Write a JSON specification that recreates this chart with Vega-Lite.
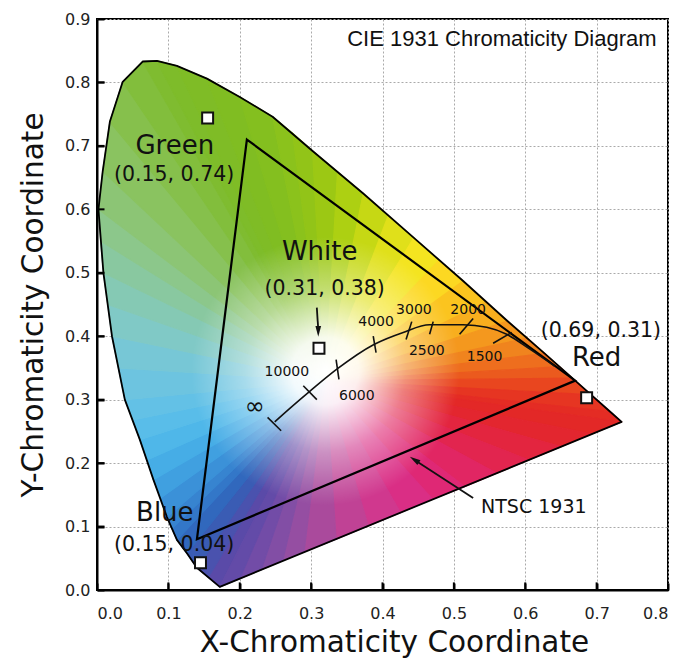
{
  "$schema": "https://vega.github.io/schema/vega-lite/v6.json",
  "width": 571,
  "height": 571,
  "autosize": {"type": "none"},
  "padding": {"left": 97, "top": 19, "right": 12, "bottom": 71},
  "background": "white",
  "config": {
    "view": {"stroke": "#000", "strokeWidth": 2},
    "axis": {
      "zindex": 1,
      "domainColor": "#000",
      "domainWidth": 2,
      "tickColor": "#000",
      "tickWidth": 2,
      "tickSize": -7,
      "labelFont": "DejaVu Sans",
      "labelFontSize": 16,
      "labelColor": "#222",
      "gridColor": "#aaaaaa",
      "gridDash": [2, 2],
      "gridWidth": 1,
      "titleFont": "DejaVu Sans",
      "titleFontSize": 29.5,
      "titleFontWeight": "normal",
      "titleColor": "#111"
    }
  },
  "datasets": {
    "wedges": [
      {"w":0,"o":0,"x":0.32,"y":0.33,"c":"#5a4aa8"},{"w":0,"o":1,"x":0.172,"y":0.005,"c":"#5a4aa8"},{"w":0,"o":2,"x":0.156,"y":0.020,"c":"#5a4aa8"},
      {"w":1,"o":0,"x":0.32,"y":0.33,"c":"#4a52ae"},{"w":1,"o":1,"x":0.156,"y":0.020,"c":"#4a52ae"},{"w":1,"o":2,"x":0.140,"y":0.035,"c":"#4a52ae"},
      {"w":2,"o":0,"x":0.32,"y":0.33,"c":"#3a5cb4"},{"w":2,"o":1,"x":0.140,"y":0.035,"c":"#3a5cb4"},{"w":2,"o":2,"x":0.126,"y":0.058,"c":"#3a5cb4"},
      {"w":3,"o":0,"x":0.32,"y":0.33,"c":"#3168bd"},{"w":3,"o":1,"x":0.126,"y":0.058,"c":"#3168bd"},{"w":3,"o":2,"x":0.112,"y":0.079,"c":"#3168bd"},
      {"w":4,"o":0,"x":0.32,"y":0.33,"c":"#3377c8"},{"w":4,"o":1,"x":0.112,"y":0.079,"c":"#3377c8"},{"w":4,"o":2,"x":0.105,"y":0.097,"c":"#3377c8"},
      {"w":5,"o":0,"x":0.32,"y":0.33,"c":"#3784d0"},{"w":5,"o":1,"x":0.105,"y":0.097,"c":"#3784d0"},{"w":5,"o":2,"x":0.098,"y":0.115,"c":"#3784d0"},
      {"w":6,"o":0,"x":0.32,"y":0.33,"c":"#3b91d8"},{"w":6,"o":1,"x":0.098,"y":0.115,"c":"#3b91d8"},{"w":6,"o":2,"x":0.089,"y":0.145,"c":"#3b91d8"},
      {"w":7,"o":0,"x":0.32,"y":0.33,"c":"#40a0e0"},{"w":7,"o":1,"x":0.089,"y":0.145,"c":"#40a0e0"},{"w":7,"o":2,"x":0.079,"y":0.174,"c":"#40a0e0"},
      {"w":8,"o":0,"x":0.32,"y":0.33,"c":"#46ade6"},{"w":8,"o":1,"x":0.079,"y":0.174,"c":"#46ade6"},{"w":8,"o":2,"x":0.070,"y":0.205,"c":"#46ade6"},
      {"w":9,"o":0,"x":0.32,"y":0.33,"c":"#4fb7e9"},{"w":9,"o":1,"x":0.070,"y":0.205,"c":"#4fb7e9"},{"w":9,"o":2,"x":0.060,"y":0.237,"c":"#4fb7e9"},
      {"w":10,"o":0,"x":0.32,"y":0.33,"c":"#59bde9"},{"w":10,"o":1,"x":0.060,"y":0.237,"c":"#59bde9"},{"w":10,"o":2,"x":0.050,"y":0.268,"c":"#59bde9"},
      {"w":11,"o":0,"x":0.32,"y":0.33,"c":"#63c1e6"},{"w":11,"o":1,"x":0.050,"y":0.268,"c":"#63c1e6"},{"w":11,"o":2,"x":0.039,"y":0.300,"c":"#63c1e6"},
      {"w":12,"o":0,"x":0.32,"y":0.33,"c":"#6dc4e0"},{"w":12,"o":1,"x":0.039,"y":0.300,"c":"#6dc4e0"},{"w":12,"o":2,"x":0.030,"y":0.350,"c":"#6dc4e0"},
      {"w":13,"o":0,"x":0.32,"y":0.33,"c":"#77c7d6"},{"w":13,"o":1,"x":0.030,"y":0.350,"c":"#77c7d6"},{"w":13,"o":2,"x":0.021,"y":0.400,"c":"#77c7d6"},
      {"w":14,"o":0,"x":0.32,"y":0.33,"c":"#80c9c6"},{"w":14,"o":1,"x":0.021,"y":0.400,"c":"#80c9c6"},{"w":14,"o":2,"x":0.015,"y":0.450,"c":"#80c9c6"},
      {"w":15,"o":0,"x":0.32,"y":0.33,"c":"#85c9b4"},{"w":15,"o":1,"x":0.015,"y":0.450,"c":"#85c9b4"},{"w":15,"o":2,"x":0.009,"y":0.500,"c":"#85c9b4"},
      {"w":16,"o":0,"x":0.32,"y":0.33,"c":"#89c8a0"},{"w":16,"o":1,"x":0.009,"y":0.500,"c":"#89c8a0"},{"w":16,"o":2,"x":0.005,"y":0.550,"c":"#89c8a0"},
      {"w":17,"o":0,"x":0.32,"y":0.33,"c":"#8cc78b"},{"w":17,"o":1,"x":0.005,"y":0.550,"c":"#8cc78b"},{"w":17,"o":2,"x":0.002,"y":0.600,"c":"#8cc78b"},
      {"w":18,"o":0,"x":0.32,"y":0.33,"c":"#8cc575"},{"w":18,"o":1,"x":0.002,"y":0.600,"c":"#8cc575"},{"w":18,"o":2,"x":0.008,"y":0.660,"c":"#8cc575"},
      {"w":19,"o":0,"x":0.32,"y":0.33,"c":"#8ac360"},{"w":19,"o":1,"x":0.008,"y":0.660,"c":"#8ac360"},{"w":19,"o":2,"x":0.018,"y":0.738,"c":"#8ac360"},
      {"w":20,"o":0,"x":0.32,"y":0.33,"c":"#86c04c"},{"w":20,"o":1,"x":0.018,"y":0.738,"c":"#86c04c"},{"w":20,"o":2,"x":0.036,"y":0.801,"c":"#86c04c"},
      {"w":21,"o":0,"x":0.32,"y":0.33,"c":"#82be3c"},{"w":21,"o":1,"x":0.036,"y":0.801,"c":"#82be3c"},{"w":21,"o":2,"x":0.064,"y":0.833,"c":"#82be3c"},
      {"w":22,"o":0,"x":0.32,"y":0.33,"c":"#7fbc30"},{"w":22,"o":1,"x":0.064,"y":0.833,"c":"#7fbc30"},{"w":22,"o":2,"x":0.084,"y":0.834,"c":"#7fbc30"},
      {"w":23,"o":0,"x":0.32,"y":0.33,"c":"#7ebc2a"},{"w":23,"o":1,"x":0.084,"y":0.834,"c":"#7ebc2a"},{"w":23,"o":2,"x":0.112,"y":0.826,"c":"#7ebc2a"},
      {"w":24,"o":0,"x":0.32,"y":0.33,"c":"#7fbc26"},{"w":24,"o":1,"x":0.112,"y":0.826,"c":"#7fbc26"},{"w":24,"o":2,"x":0.154,"y":0.806,"c":"#7fbc26"},
      {"w":25,"o":0,"x":0.32,"y":0.33,"c":"#80bd22"},{"w":25,"o":1,"x":0.154,"y":0.806,"c":"#80bd22"},{"w":25,"o":2,"x":0.200,"y":0.777,"c":"#80bd22"},
      {"w":26,"o":0,"x":0.32,"y":0.33,"c":"#84bf1f"},{"w":26,"o":1,"x":0.200,"y":0.777,"c":"#84bf1f"},{"w":26,"o":2,"x":0.246,"y":0.746,"c":"#84bf1f"},
      {"w":27,"o":0,"x":0.32,"y":0.33,"c":"#8bc21c"},{"w":27,"o":1,"x":0.246,"y":0.746,"c":"#8bc21c"},{"w":27,"o":2,"x":0.274,"y":0.720,"c":"#8bc21c"},
      {"w":28,"o":0,"x":0.32,"y":0.33,"c":"#92c418"},{"w":28,"o":1,"x":0.274,"y":0.720,"c":"#92c418"},{"w":28,"o":2,"x":0.302,"y":0.692,"c":"#92c418"},
      {"w":29,"o":0,"x":0.32,"y":0.33,"c":"#9cc814"},{"w":29,"o":1,"x":0.302,"y":0.692,"c":"#9cc814"},{"w":29,"o":2,"x":0.337,"y":0.659,"c":"#9cc814"},
      {"w":30,"o":0,"x":0.32,"y":0.33,"c":"#add012"},{"w":30,"o":1,"x":0.337,"y":0.659,"c":"#add012"},{"w":30,"o":2,"x":0.373,"y":0.625,"c":"#add012"},
      {"w":31,"o":0,"x":0.32,"y":0.33,"c":"#c6d814"},{"w":31,"o":1,"x":0.373,"y":0.625,"c":"#c6d814"},{"w":31,"o":2,"x":0.408,"y":0.590,"c":"#c6d814"},
      {"w":32,"o":0,"x":0.32,"y":0.33,"c":"#e0e01a"},{"w":32,"o":1,"x":0.408,"y":0.590,"c":"#e0e01a"},{"w":32,"o":2,"x":0.444,"y":0.555,"c":"#e0e01a"},
      {"w":33,"o":0,"x":0.32,"y":0.33,"c":"#f4e420"},{"w":33,"o":1,"x":0.444,"y":0.555,"c":"#f4e420"},{"w":33,"o":2,"x":0.479,"y":0.520,"c":"#f4e420"},
      {"w":34,"o":0,"x":0.32,"y":0.33,"c":"#fcd822"},{"w":34,"o":1,"x":0.479,"y":0.520,"c":"#fcd822"},{"w":34,"o":2,"x":0.513,"y":0.487,"c":"#fcd822"},
      {"w":35,"o":0,"x":0.32,"y":0.33,"c":"#fbc41f"},{"w":35,"o":1,"x":0.513,"y":0.487,"c":"#fbc41f"},{"w":35,"o":2,"x":0.545,"y":0.454,"c":"#fbc41f"},
      {"w":36,"o":0,"x":0.32,"y":0.33,"c":"#f8ae1e"},{"w":36,"o":1,"x":0.545,"y":0.454,"c":"#f8ae1e"},{"w":36,"o":2,"x":0.575,"y":0.424,"c":"#f8ae1e"},
      {"w":37,"o":0,"x":0.32,"y":0.33,"c":"#f4981e"},{"w":37,"o":1,"x":0.575,"y":0.424,"c":"#f4981e"},{"w":37,"o":2,"x":0.603,"y":0.397,"c":"#f4981e"},
      {"w":38,"o":0,"x":0.32,"y":0.33,"c":"#f0841e"},{"w":38,"o":1,"x":0.603,"y":0.397,"c":"#f0841e"},{"w":38,"o":2,"x":0.627,"y":0.373,"c":"#f0841e"},
      {"w":39,"o":0,"x":0.32,"y":0.33,"c":"#ee6e1e"},{"w":39,"o":1,"x":0.627,"y":0.373,"c":"#ee6e1e"},{"w":39,"o":2,"x":0.648,"y":0.352,"c":"#ee6e1e"},
      {"w":40,"o":0,"x":0.32,"y":0.33,"c":"#eb5a1e"},{"w":40,"o":1,"x":0.648,"y":0.352,"c":"#eb5a1e"},{"w":40,"o":2,"x":0.666,"y":0.334,"c":"#eb5a1e"},
      {"w":41,"o":0,"x":0.32,"y":0.33,"c":"#e9461f"},{"w":41,"o":1,"x":0.666,"y":0.334,"c":"#e9461f"},{"w":41,"o":2,"x":0.692,"y":0.308,"c":"#e9461f"},
      {"w":42,"o":0,"x":0.32,"y":0.33,"c":"#e63522"},{"w":42,"o":1,"x":0.692,"y":0.308,"c":"#e63522"},{"w":42,"o":2,"x":0.719,"y":0.281,"c":"#e63522"},
      {"w":43,"o":0,"x":0.32,"y":0.33,"c":"#e42c24"},{"w":43,"o":1,"x":0.719,"y":0.281,"c":"#e42c24"},{"w":43,"o":2,"x":0.735,"y":0.265,"c":"#e42c24"},
      {"w":44,"o":0,"x":0.32,"y":0.33,"c":"#e32827"},{"w":44,"o":1,"x":0.735,"y":0.265,"c":"#e32827"},{"w":44,"o":2,"x":0.693,"y":0.246,"c":"#e32827"},
      {"w":45,"o":0,"x":0.32,"y":0.33,"c":"#e3262f"},{"w":45,"o":1,"x":0.693,"y":0.246,"c":"#e3262f"},{"w":45,"o":2,"x":0.650,"y":0.226,"c":"#e3262f"},
      {"w":46,"o":0,"x":0.32,"y":0.33,"c":"#e3253f"},{"w":46,"o":1,"x":0.650,"y":0.226,"c":"#e3253f"},{"w":46,"o":2,"x":0.605,"y":0.205,"c":"#e3253f"},
      {"w":47,"o":0,"x":0.32,"y":0.33,"c":"#e2254f"},{"w":47,"o":1,"x":0.605,"y":0.205,"c":"#e2254f"},{"w":47,"o":2,"x":0.560,"y":0.184,"c":"#e2254f"},
      {"w":48,"o":0,"x":0.32,"y":0.33,"c":"#e12663"},{"w":48,"o":1,"x":0.560,"y":0.184,"c":"#e12663"},{"w":48,"o":2,"x":0.515,"y":0.163,"c":"#e12663"},
      {"w":49,"o":0,"x":0.32,"y":0.33,"c":"#df2875"},{"w":49,"o":1,"x":0.515,"y":0.163,"c":"#df2875"},{"w":49,"o":2,"x":0.470,"y":0.143,"c":"#df2875"},
      {"w":50,"o":0,"x":0.32,"y":0.33,"c":"#da2e85"},{"w":50,"o":1,"x":0.470,"y":0.143,"c":"#da2e85"},{"w":50,"o":2,"x":0.425,"y":0.122,"c":"#da2e85"},
      {"w":51,"o":0,"x":0.32,"y":0.33,"c":"#d0388e"},{"w":51,"o":1,"x":0.425,"y":0.122,"c":"#d0388e"},{"w":51,"o":2,"x":0.380,"y":0.101,"c":"#d0388e"},
      {"w":52,"o":0,"x":0.32,"y":0.33,"c":"#c04295"},{"w":52,"o":1,"x":0.380,"y":0.101,"c":"#c04295"},{"w":52,"o":2,"x":0.335,"y":0.080,"c":"#c04295"},
      {"w":53,"o":0,"x":0.32,"y":0.33,"c":"#aa4a9c"},{"w":53,"o":1,"x":0.335,"y":0.080,"c":"#aa4a9c"},{"w":53,"o":2,"x":0.290,"y":0.060,"c":"#aa4a9c"},
      {"w":54,"o":0,"x":0.32,"y":0.33,"c":"#954ea2"},{"w":54,"o":1,"x":0.290,"y":0.060,"c":"#954ea2"},{"w":54,"o":2,"x":0.260,"y":0.046,"c":"#954ea2"},
      {"w":55,"o":0,"x":0.32,"y":0.33,"c":"#824ea5"},{"w":55,"o":1,"x":0.260,"y":0.046,"c":"#824ea5"},{"w":55,"o":2,"x":0.230,"y":0.032,"c":"#824ea5"},
      {"w":56,"o":0,"x":0.32,"y":0.33,"c":"#724ca7"},{"w":56,"o":1,"x":0.230,"y":0.032,"c":"#724ca7"},{"w":56,"o":2,"x":0.200,"y":0.018,"c":"#724ca7"},
      {"w":57,"o":0,"x":0.32,"y":0.33,"c":"#634ba8"},{"w":57,"o":1,"x":0.200,"y":0.018,"c":"#634ba8"},{"w":57,"o":2,"x":0.172,"y":0.005,"c":"#634ba8"}
    ],
    "locus": [
      {"o":0,"x":0.172,"y":0.005},{"o":1,"x":0.140,"y":0.035},{"o":2,"x":0.126,"y":0.058},{"o":3,"x":0.112,"y":0.079},
      {"o":4,"x":0.098,"y":0.115},{"o":5,"x":0.079,"y":0.174},{"o":6,"x":0.060,"y":0.237},{"o":7,"x":0.039,"y":0.300},
      {"o":8,"x":0.021,"y":0.400},{"o":9,"x":0.009,"y":0.500},{"o":10,"x":0.002,"y":0.600},{"o":11,"x":0.008,"y":0.660},
      {"o":12,"x":0.018,"y":0.738},{"o":13,"x":0.036,"y":0.801},{"o":14,"x":0.064,"y":0.833},{"o":15,"x":0.084,"y":0.834},
      {"o":16,"x":0.112,"y":0.826},{"o":17,"x":0.154,"y":0.806},{"o":18,"x":0.200,"y":0.777},{"o":19,"x":0.246,"y":0.746},
      {"o":20,"x":0.302,"y":0.692},{"o":21,"x":0.373,"y":0.625},{"o":22,"x":0.444,"y":0.555},{"o":23,"x":0.513,"y":0.487},
      {"o":24,"x":0.575,"y":0.424},{"o":25,"x":0.627,"y":0.373},{"o":26,"x":0.666,"y":0.334},{"o":27,"x":0.692,"y":0.308},
      {"o":28,"x":0.719,"y":0.281},{"o":29,"x":0.735,"y":0.265}
    ],
    "triangle": [
      {"o":0,"x":0.21,"y":0.71},{"o":1,"x":0.67,"y":0.33},{"o":2,"x":0.14,"y":0.08}
    ],
    "planck": [
      {"o":0,"x":0.249,"y":0.265},{"o":1,"x":0.273,"y":0.289},{"o":2,"x":0.298,"y":0.313},{"o":3,"x":0.336,"y":0.348},
      {"o":4,"x":0.388,"y":0.387},{"o":5,"x":0.429,"y":0.406},{"o":6,"x":0.466,"y":0.418},{"o":7,"x":0.513,"y":0.418},
      {"o":8,"x":0.546,"y":0.414},{"o":9,"x":0.574,"y":0.403},{"o":10,"x":0.606,"y":0.380},{"o":11,"x":0.641,"y":0.353}
    ],
    "ticks": [
      {"x":0.239,"y":0.272,"x2":0.258,"y2":0.251},
      {"x":0.289,"y":0.322,"x2":0.308,"y2":0.300},
      {"x":0.335,"y":0.363,"x2":0.339,"y2":0.332},
      {"x":0.387,"y":0.400,"x2":0.391,"y2":0.374},
      {"x":0.441,"y":0.423,"x2":0.433,"y2":0.395},
      {"x":0.471,"y":0.423,"x2":0.466,"y2":0.403},
      {"x":0.527,"y":0.428,"x2":0.508,"y2":0.403},
      {"x":0.581,"y":0.406,"x2":0.555,"y2":0.389}
    ],
    "axisticks": [
      {"x":0.1,"y":0,"x2":0.1,"y2":0.012},{"x":0.2,"y":0,"x2":0.2,"y2":0.012},{"x":0.3,"y":0,"x2":0.3,"y2":0.012},
      {"x":0.4,"y":0,"x2":0.4,"y2":0.012},{"x":0.5,"y":0,"x2":0.5,"y2":0.012},{"x":0.6,"y":0,"x2":0.6,"y2":0.012},
      {"x":0.7,"y":0,"x2":0.7,"y2":0.012},
      {"x":0,"y":0.1,"x2":0.0105,"y2":0.1},{"x":0,"y":0.2,"x2":0.0105,"y2":0.2},{"x":0,"y":0.3,"x2":0.0105,"y2":0.3},
      {"x":0,"y":0.4,"x2":0.0105,"y2":0.4},{"x":0,"y":0.5,"x2":0.0105,"y2":0.5},{"x":0,"y":0.6,"x2":0.0105,"y2":0.6},
      {"x":0,"y":0.7,"x2":0.0105,"y2":0.7},{"x":0,"y":0.8,"x2":0.0105,"y2":0.8}
    ],
    "shafts": [
      {"x":0.308,"y":0.445,"x2":0.310,"y2":0.410},
      {"x":0.527,"y":0.145,"x2":0.445,"y2":0.205}
    ],
    "primaries": [
      {"name":"Green","x":0.155,"y":0.744},
      {"name":"Blue","x":0.145,"y":0.043},
      {"name":"Red","x":0.686,"y":0.303},
      {"name":"White","x":0.311,"y":0.381}
    ],
    "names": [
      {"t":"Green","x":0.109,"y":0.700},
      {"t":"White","x":0.312,"y":0.532},
      {"t":"Blue","x":0.095,"y":0.122},
      {"t":"Red","x":0.700,"y":0.365}
    ],
    "coords": [
      {"t":"(0.15, 0.74)","x":0.108,"y":0.654},
      {"t":"(0.31, 0.38)","x":0.319,"y":0.474},
      {"t":"(0.15, 0.04)","x":0.108,"y":0.071},
      {"t":"(0.69, 0.31)","x":0.706,"y":0.409}
    ],
    "temps": [
      {"t":"10000","x":0.266,"y":0.343},
      {"t":"6000","x":0.364,"y":0.305},
      {"t":"4000","x":0.391,"y":0.422},
      {"t":"3000","x":0.444,"y":0.441},
      {"t":"2500","x":0.462,"y":0.376},
      {"t":"2000","x":0.520,"y":0.442},
      {"t":"1500","x":0.543,"y":0.368}
    ]
  },
  "encoding": {
    "x": {"field": "x", "type": "quantitative",
      "scale": {"domain": [0, 0.8], "nice": false, "zero": false},
      "axis": {"values": [0, 0.1, 0.2, 0.3, 0.4, 0.5, 0.6, 0.7, 0.8], "format": ".1f",
        "title": "X-Chromaticity Coordinate", "labelPadding": 22, "titlePadding": 7, "titleX": 297}},
    "y": {"field": "y", "type": "quantitative",
      "scale": {"domain": [0, 0.9], "nice": false, "zero": false},
      "axis": {"values": [0, 0.1, 0.2, 0.3, 0.4, 0.5, 0.6, 0.7, 0.8, 0.9], "format": ".1f",
        "title": "Y-Chromaticity Coordinate", "labelPadding": 14, "titlePadding": 16}}
  },
  "layer": [
    {
      "data": {"name": "wedges"},
      "mark": {"type": "line", "interpolate": "linear-closed", "strokeWidth": 1.2, "strokeJoin": "round"},
      "encoding": {
        "detail": {"field": "w", "type": "nominal"},
        "order": {"field": "o", "type": "quantitative"},
        "color": {"field": "c", "type": "nominal", "scale": null},
        "fill": {"field": "c", "type": "nominal", "scale": null}
      }
    },
    {
      "data": {"values": [{"x": 0.32, "y": 0.345}]},
      "mark": {"type": "point", "shape": "circle", "size": 72000, "filled": true, "opacity": 1, "strokeWidth": 0,
        "fill": {"gradient": "radial", "x1": 0.5, "y1": 0.5, "r1": 0, "x2": 0.5, "y2": 0.5, "r2": 0.5,
          "stops": [
            {"offset": 0, "color": "rgba(255,255,255,1)"},
            {"offset": 0.25, "color": "rgba(255,255,255,0.92)"},
            {"offset": 0.6, "color": "rgba(255,255,255,0.4)"},
            {"offset": 1, "color": "rgba(255,255,255,0)"}
          ]}}
    },
    {
      "data": {"name": "locus"},
      "mark": {"type": "line", "interpolate": "linear-closed", "color": "#000", "strokeWidth": 1.8, "strokeJoin": "round"},
      "encoding": {"order": {"field": "o", "type": "quantitative"}}
    },
    {
      "data": {"name": "triangle"},
      "mark": {"type": "line", "interpolate": "linear-closed", "color": "#000", "strokeWidth": 2.2, "strokeJoin": "miter"},
      "encoding": {"order": {"field": "o", "type": "quantitative"}}
    },
    {
      "data": {"name": "planck"},
      "mark": {"type": "line", "interpolate": "monotone", "color": "#111", "strokeWidth": 1.6},
      "encoding": {"order": {"field": "o", "type": "quantitative"}}
    },
    {
      "data": {"name": "ticks"},
      "mark": {"type": "rule", "color": "#111", "strokeWidth": 1.6},
      "encoding": {"x2": {"field": "x2"}, "y2": {"field": "y2"}}
    },
    {
      "data": {"name": "axisticks"},
      "mark": {"type": "rule", "color": "#000", "strokeWidth": 2},
      "encoding": {"x2": {"field": "x2"}, "y2": {"field": "y2"}}
    },
    {
      "data": {"name": "shafts"},
      "mark": {"type": "rule", "color": "#111", "strokeWidth": 1.8},
      "encoding": {"x2": {"field": "x2"}, "y2": {"field": "y2"}}
    },
    {
      "data": {"values": [{"x": 0.310, "y": 0.408}]},
      "mark": {"type": "point", "shape": "M0,-1L0.5,0.9L-0.5,0.9Z", "size": 130, "filled": true, "color": "#111", "opacity": 1, "angle": 180}
    },
    {
      "data": {"values": [{"x": 0.445, "y": 0.205}]},
      "mark": {"type": "point", "shape": "M0,-1L0.5,0.9L-0.5,0.9Z", "size": 130, "filled": true, "color": "#111", "opacity": 1, "angle": 303}
    },
    {
      "data": {"name": "primaries"},
      "mark": {"type": "point", "shape": "square", "size": 120, "filled": true, "fill": "#fff", "stroke": "#111", "strokeWidth": 2, "opacity": 1}
    },
    {
      "data": {"name": "names"},
      "mark": {"type": "text", "font": "DejaVu Sans", "fontSize": 26, "color": "#111", "align": "center", "baseline": "middle"},
      "encoding": {"text": {"field": "t"}}
    },
    {
      "data": {"name": "coords"},
      "mark": {"type": "text", "font": "DejaVu Sans", "fontSize": 20.5, "color": "#111", "align": "center", "baseline": "middle"},
      "encoding": {"text": {"field": "t"}}
    },
    {
      "data": {"name": "temps"},
      "mark": {"type": "text", "font": "DejaVu Sans", "fontSize": 14, "color": "#111", "align": "center", "baseline": "middle"},
      "encoding": {"text": {"field": "t"}}
    },
    {
      "data": {"values": [{"t": "∞", "x": 0.221, "y": 0.288}]},
      "mark": {"type": "text", "font": "DejaVu Sans", "fontSize": 24, "color": "#111", "align": "center", "baseline": "middle"},
      "encoding": {"text": {"field": "t"}}
    },
    {
      "data": {"values": [{"t": "NTSC 1931", "x": 0.612, "y": 0.131}]},
      "mark": {"type": "text", "font": "DejaVu Sans", "fontSize": 19, "color": "#111", "align": "center", "baseline": "middle"},
      "encoding": {"text": {"field": "t"}}
    },
    {
      "data": {"values": [{"t": "CIE 1931 Chromaticity Diagram", "x": 0.784, "y": 0.869}]},
      "mark": {"type": "text", "font": "Liberation Sans", "fontSize": 22, "color": "#111", "align": "right", "baseline": "middle"},
      "encoding": {"text": {"field": "t"}}
    }
  ]
}
